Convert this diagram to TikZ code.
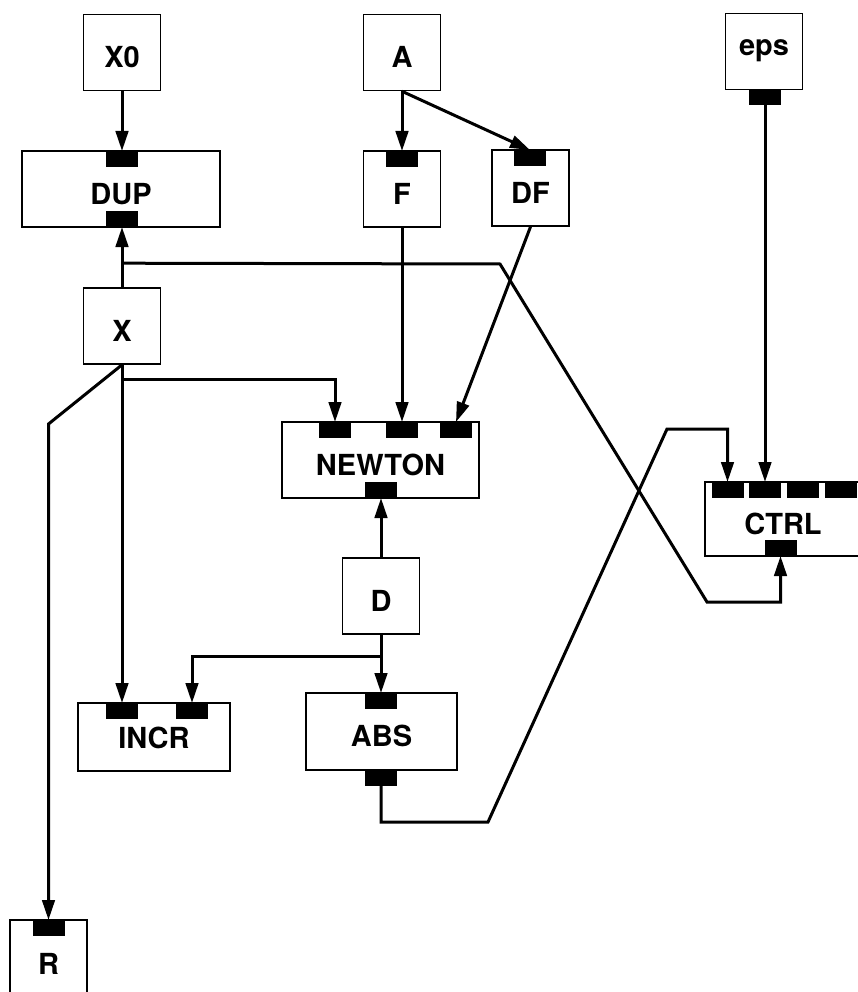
\documentclass[tikz,border=0pt]{standalone}
\usepackage{fontspec}
\setmainfont{TeX Gyre Heros}
\usetikzlibrary{arrows.meta}
\tikzset{
  block/.style={rectangle, draw=black, line width=1.6pt, inner sep=0pt, font=\fontsize{29}{30}\selectfont\bfseries, text height=30.5pt, text depth=0pt},
  square/.style={block, minimum width=77pt, minimum height=76pt},
  port/.style={rectangle, fill=black, inner sep=0pt, minimum width=32pt, minimum height=15.5pt},
  arrow/.style={-{Triangle[length=20pt, width=12.5pt]}, line width=3pt},
  wire/.style={line width=3pt}
}

\begin{document}
\begin{tikzpicture}[x=1pt, y=-1pt]
  \useasboundingbox (0,0) rectangle (858,992);
  \node[square] (x0) at (122,52.5) {X0};
  \node[square] (a) at (402,52.5) {A};
  \node[square, text height=15pt, text depth=6pt] (eps) at (764,51.5) {eps};
  \node[block, minimum width=198pt, minimum height=76pt] (dup) at (121,189) {DUP};
  \node[square] (f) at (402,189) {F};
  \node[square] (df) at (530.5,188) {DF};
  \node[square] (x) at (122,326) {X};
  \node[block, minimum width=197pt, minimum height=76pt] (newton) at (380.5,460) {NEWTON};
  \node[block, minimum width=156pt, minimum height=74pt] (ctrl) at (783,519) {CTRL};
  \node[square] (d) at (381,596) {D};
  \node[block, minimum width=152pt, minimum height=68pt, text height=22.5pt] (incr) at (154,737) {INCR};
  \node[block, minimum width=151pt, minimum height=77pt] (abs) at (381.5,731.5) {ABS};
  \node[square, minimum height=78pt] (r) at (48.5,959) {R};

  \node[port, anchor=north] (dupin) at (122,151) {};
  \node[port, anchor=south] (dupout) at (122,227) {};
  \node[port, anchor=north] (fin) at (402,151) {};
  \node[port, anchor=north] (dfin) at (530,150) {};
  \node[port, anchor=north] (epsout) at (765,89.5) {};
  \node[port, anchor=north] (nin1) at (335,422) {};
  \node[port, anchor=north] (nin2) at (402,422) {};
  \node[port, anchor=north] (nin3) at (456,422) {};
  \node[port, anchor=south] (nout) at (381,498) {};
  \foreach \i/\px in {1/727.5,2/765,3/803,4/841}
    \node[port, anchor=north] (cin\i) at (\px,482) {};
  \node[port, anchor=south] (cout) at (780.5,556) {};
  \node[port, anchor=north] (incrin1) at (122,703) {};
  \node[port, anchor=north] (incrin2) at (192,703) {};
  \node[port, anchor=north] (absin) at (381,693) {};
  \node[port, anchor=north] (absout) at (381,770) {};
  \node[port, anchor=north] (rin) at (48.5,920) {};

  \draw[arrow] (x0) -- (dupin);
  \draw[arrow] (x) -- (dupout);
  \draw[arrow] ([yshift=24pt]x.north) -- (500,264) -- (707,602) -| (cout);
  \draw[arrow] (a) -- (fin);
  \draw[arrow] (a.south) -- (dfin.north);
  \draw[arrow] (epsout) -- (cin2);
  \draw[arrow] (f) -- (nin2);
  \draw[arrow] (df.south) -- (nin3.north);
  \draw[arrow] (x) -- (incrin1);
  \draw[arrow] ([yshift=-15pt]x.south) -| (nin1);
  \draw[arrow] (x.south) -- (48.5,424) -- (rin);
  \draw[arrow] (d) -- (nout);
  \draw[arrow] (d) -- (absin);
  \draw[arrow] ([yshift=-22pt]d.south) -| (incrin2);
  \draw[arrow] (absout) |- (488,822) -- (667,429) -| (cin1);
\end{tikzpicture}
\end{document}
